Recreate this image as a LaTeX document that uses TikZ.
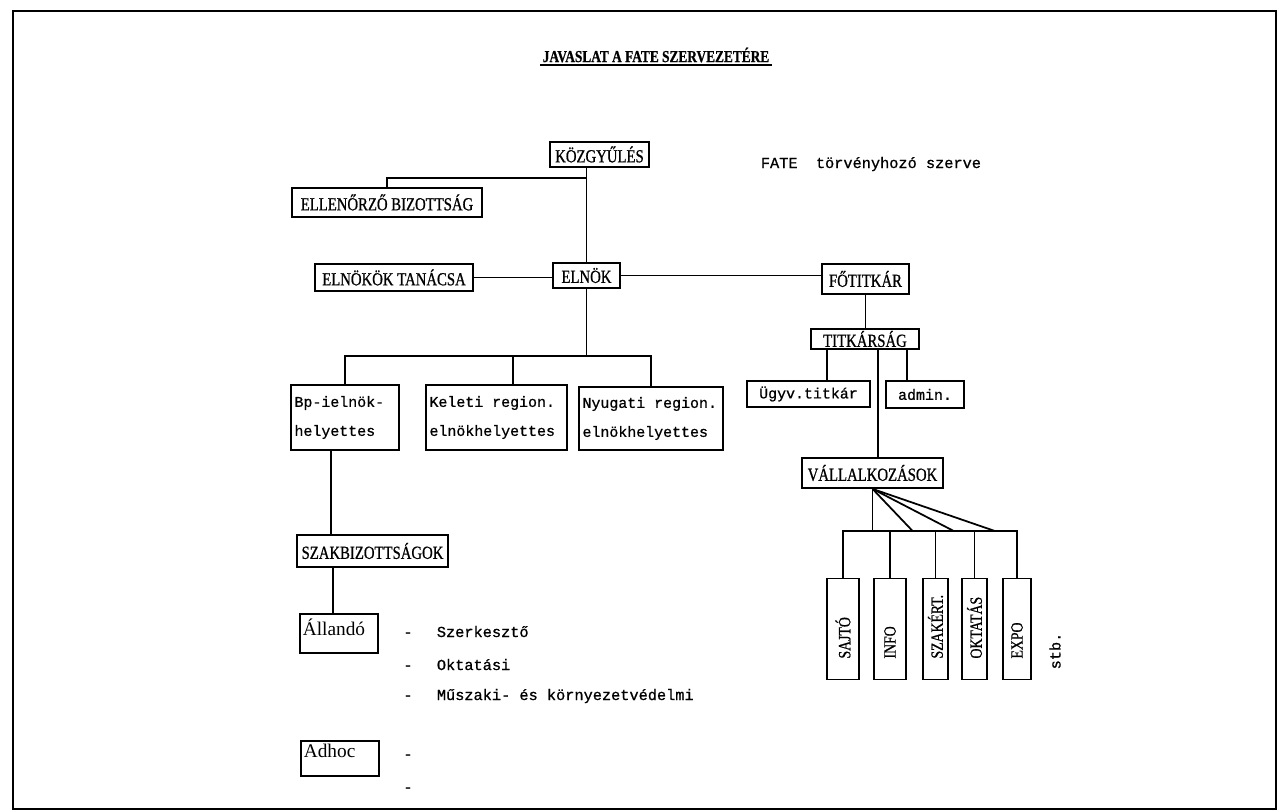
\documentclass[tikz,border=0pt]{standalone}
\usepackage{fontspec}
\setmainfont{Liberation Serif}
\newfontfamily\capsfont[FakeStretch=0.8,FakeBold=0.8]{Liberation Serif}
\newfontfamily\typefont[FakeBold=0.8]{Liberation Mono}
\usetikzlibrary{calc}

\begin{document}
\begin{tikzpicture}[x=0.02cm,y=-0.02cm,line width=1pt,
    capbox/.style={draw, inner sep=0pt, font=\capsfont\fontsize{10.5}{12}\selectfont},
    typebox/.style={draw, inner xsep=0.07cm, inner ysep=0pt, align=flush left, font=\typefont\fontsize{8.5}{16.5}\selectfont},
    notebox/.style={draw, anchor=north west, inner xsep=0.06cm, inner ysep=0.1cm, minimum width=1.56cm, text width=1.44cm, align=flush left, font=\fontsize{11}{13}\selectfont},
    typetext/.style={inner sep=0pt, font=\typefont\fontsize{8.7}{10}\selectfont},
    vbox/.style={draw, minimum height=2.02cm, inner sep=0pt},
    vlabel/.style={rotate=90, anchor=west, inner sep=0pt, font=\capsfont\fontsize{9.8}{12}\selectfont}]
    \useasboundingbox (0,0) rectangle (1279,812);
    % Frame
    \draw[line width=1.2pt] (13,11) rectangle (1276,809);

    % Title
    \node[inner sep=1pt, font=\capsfont\bfseries\fontsize{9.5}{11}\selectfont] (title) at (656,55) {JAVASLAT A FATE SZERVEZETÉRE};
    \draw (title.south west) -- (title.south east);

    % Top level
    \node[capbox, minimum width=1.98cm, minimum height=0.5cm] (kozgy) at (599.5,154.5) {KÖZGYŰLÉS};
    \node[typetext, anchor=base west] (fate) at (760,168) {FATE\ \ törvényhozó szerve};
    \node[capbox, minimum width=3.8cm, minimum height=0.58cm] (ellen) at (387,202.5) {ELLENŐRZŐ BIZOTTSÁG};
    \node[capbox, minimum width=1.34cm, minimum height=0.5cm] (elnok) at (586.5,275.5) {ELNÖK};
    \node[capbox, minimum width=3.16cm, minimum height=0.54cm] (tanacs) at (394,277.5) {ELNÖKÖK TANÁCSA};
    \node[capbox, minimum width=1.74cm, minimum height=0.6cm] (fotitkar) at (865.5,279) {FŐTITKÁR};

    % Secretariat
    \node[capbox, minimum width=2.16cm, minimum height=0.4cm] (titkarsag) at (865,339) {TITKÁRSÁG};
    \node[typebox, minimum width=2.46cm, minimum height=0.52cm] (ugyv) at (808.5,394) {Ügyv.titkár};
    \node[typebox, minimum width=1.56cm, minimum height=0.54cm] (admin) at (925,394.5) {admin.};
    \node[capbox, minimum width=2.82cm, minimum height=0.6cm] (vallal) at (872.5,473) {VÁLLALKOZÁSOK};

    % Vice presidents
    \node[typebox, text width=2.02cm, minimum height=1.3cm] (bp) at (345,417.5) {Bp-ielnök-\\helyettes};
    \node[typebox, text width=2.68cm, minimum height=1.3cm] (keleti) at (496.5,417.5) {Keleti region.\\elnökhelyettes};
    \node[typebox, text width=2.74cm, minimum height=1.26cm] (nyugati) at (651,418.5) {Nyugati region.\\elnökhelyettes};

    % Committees
    \node[capbox, minimum width=3.02cm, minimum height=0.64cm] (szakb) at (372.5,551) {SZAKBIZOTTSÁGOK};
    \node[notebox, text height=0.34cm, text depth=0.24cm] (allando) at (299,613) {Állandó};
    \node[notebox, text height=0.24cm, text depth=0.26cm] (adhoc) at (300,740) {Adhoc};
    \foreach \y [count=\i] in {637,670,700,759,792}
        \node[typetext, anchor=base] (dash\i) at (408,\y) {-};
    \node[typetext, anchor=base west] (szerk) at (436,637) {Szerkesztő};
    \node[typetext, anchor=base west] (oktat) at (436,670) {Oktatási};
    \node[typetext, anchor=base west] (muszaki) at (436,700) {Műszaki- és környezetvédelmi};

    % Enterprises
    \foreach \n/\x/\w/\t in {sajto/843/0.64/SAJTÓ, info/890/0.64/INFO, szakert/935.5/0.5/SZAKÉRT., oktatas/974.5/0.5/OKTATÁS, expo/1017/0.56/EXPO} {
        \node[vbox, minimum width=\w cm] (\n) at (\x,629) {};
        \node[vlabel] (\n-txt) at ($(\n.south)+(0,-21)$) {\t};
    }
    \node[typetext, rotate=90] (stb) at (1055,651) {stb.};

    % Connectors - top
    \draw (kozgy.south -| elnok.north) -- (elnok.north);
    \coordinate (kj) at ($(kozgy.south -| elnok.north)+(0,10)$);
    \draw (kj) -| (ellen.north);
    \draw (tanacs.east) -- (tanacs.east -| elnok.west);
    \draw (elnok.east) -- (elnok.east -| fotitkar.west);

    % Connectors - vice presidents
    \coordinate (hbus) at ($(elnok.south)+(0,67)$);
    \draw (elnok.south) -- (hbus);
    \draw (bp.north) |- (hbus) -| (nyugati.north);
    \draw (keleti.north) ++(16.5,0) coordinate (kl) -- (kl |- hbus);

    % Connectors - secretariat
    \draw (fotitkar.south) -- (fotitkar.south |- titkarsag.north);
    \draw (ugyv.north) ++(18.5,0) coordinate (u1) -- (u1 |- titkarsag.south);
    \draw (admin.north) ++(-18,0) coordinate (a1) -- (a1 |- titkarsag.south);
    \draw (vallal.north) ++(5.5,0) coordinate (v1) -- (v1 |- titkarsag.south);

    % Connectors - enterprises
    \coordinate (ebus) at ($(vallal.south)+(0,42)$);
    \draw (vallal.south) -- (ebus);
    \foreach \dx in {40,81,122}
        \draw (vallal.south) -- ($(ebus)+(\dx,0)$);
    \draw (sajto.north) |- (ebus) -| (expo.north);
    \foreach \n in {info,szakert,oktatas}
        \draw (\n.north) -- (\n.north |- ebus);

    % Connectors - committees
    \draw (bp.south) ++(-14,0) coordinate (b1) -- (b1 |- szakb.north);
    \draw (allando.north) ++(-6,0) coordinate (s1) -- (s1 |- szakb.south);
\end{tikzpicture}
\end{document}
